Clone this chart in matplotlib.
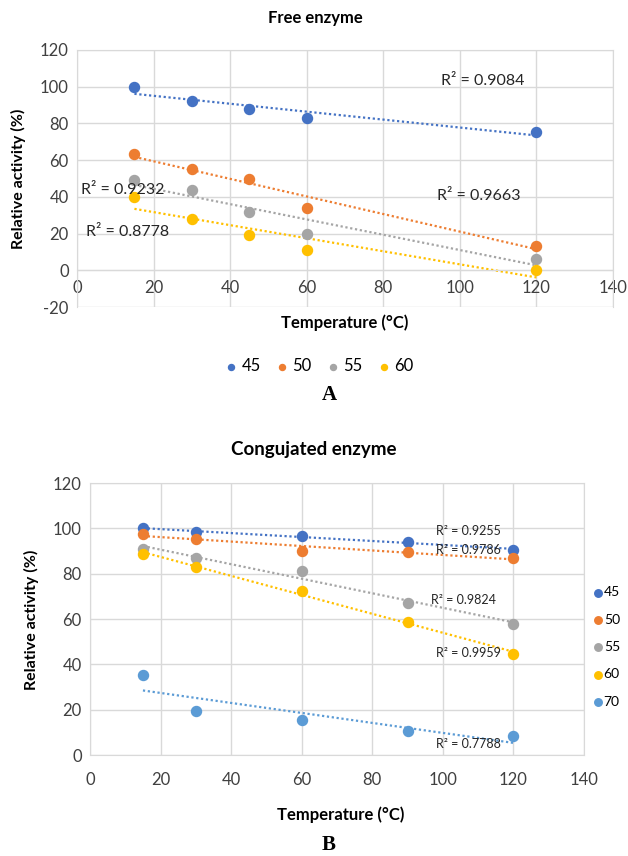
import matplotlib

matplotlib.use("Agg")
import matplotlib.pyplot as plt  # noqa: E402
import numpy as np  # noqa: E402

plt.rcParams["font.family"] = ["Lato", "DejaVu Sans"]
plt.rcParams["axes.unicode_minus"] = False

# --------------------------------------------------------------------------- #
# Data
# --------------------------------------------------------------------------- #
free_temp = [15, 30, 45, 60, 120]
free_45 = [100, 92, 88, 83, 75.5]
free_50 = [63.5, 55, 49.5, 34, 13.5]
free_55 = [49, 44, 32, 20, 6]
free_60 = [40, 28, 19, 11, 0]
free_r2 = ["0.9084", "0.9663", "0.9232", "0.8778"]

conj_temp = [15, 30, 60, 90, 120]
conj_45 = [100, 98.5, 96.5, 94, 90.5]
conj_50 = [97.5, 95.5, 90, 89.5, 87]
conj_55 = [91, 87, 81, 67, 58]
conj_60 = [88.5, 83, 72.5, 58.5, 44.5]
conj_70 = [35.5, 19.5, 15.5, 10.5, 8.5]
conj_r2 = ["0.9255", "0.9786", "0.9824", "0.9959", "0.7788"]

COLORS = {"45": "#4472C4", "50": "#ED7D31", "55": "#A5A5A5",
          "60": "#FFC000", "70": "#5B9BD5"}
GRID = "#D9D9D9"
TXT = "#262626"


def series_with_trend(ax, x, y, label):
    """Scatter points plus a dotted linear trendline (Excel style)."""
    c = COLORS[label]
    slope, icpt = np.polyfit(x, y, 1)
    xs = np.array([min(x), max(x)])
    ax.plot(xs, slope * xs + icpt, ls=(0, (1, 1.2)), lw=1.6, color=c,
            zorder=2)
    ax.scatter(x, y, s=52, color=c, zorder=3, label=label)


def style_axes(ax, ylim):
    ax.set_xlim(0, 140)
    ax.set_ylim(*ylim)
    ax.set_xticks(range(0, 141, 20))
    ax.set_yticks(range(ylim[0], ylim[1] + 1, 20))
    ax.grid(color=GRID, lw=1)
    ax.set_axisbelow(True)
    for sp in ax.spines.values():
        sp.set_color(GRID)
    ax.tick_params(length=0, labelsize=12, colors="#404040", pad=6)


W, H = 628, 856
fig = plt.figure(figsize=(W / 100, H / 100), dpi=100)

# --------------------------------------------------------------------------- #
# A - free enzyme
# --------------------------------------------------------------------------- #
axA = fig.add_axes([77 / W, 1 - 307 / H, 536 / W, 257 / H])
for lab, ys in zip(["45", "50", "55", "60"],
                   [free_45, free_50, free_55, free_60]):
    series_with_trend(axA, free_temp, ys, lab)
style_axes(axA, (-20, 120))
# horizontal axis crosses at 0, labels sit next to it
axA.spines["bottom"].set_position(("data", 0))
axA.tick_params(axis="x", pad=7)

r2_pos_A = [(95, 103), (94, 40.5), (1, 44), (2.3, 21)]
for (tx, ty), r in zip(r2_pos_A, free_r2):
    axA.text(tx, ty, f"R² = {r}", fontsize=11.5, color=TXT,
             va="center", ha="left")

fig.text(315 / W, 1 - 18 / H, "Free enzyme", ha="center", va="center",
         fontsize=12, fontweight="bold")
fig.text(18 / W, 1 - 179 / H, "Relative activity (%)", rotation=90,
         ha="center", va="center", fontsize=11.5, fontweight="bold")
fig.text(345 / W, 1 - 323 / H, "Temperature (°C)", ha="center",
         va="center", fontsize=12, fontweight="bold")
axA.legend(loc="center", bbox_to_anchor=(319 / W, 1 - 366 / H),
           bbox_transform=fig.transFigure, ncol=4, frameon=False,
           fontsize=12, handlelength=0.8, handletextpad=0.2,
           columnspacing=0.9, markerscale=0.6)
fig.text(329 / W, 1 - 395 / H, "A", ha="center", va="center",
         fontsize=15, fontweight="bold", family="Liberation Serif")

# --------------------------------------------------------------------------- #
# B - conjugated enzyme
# --------------------------------------------------------------------------- #
axB = fig.add_axes([90 / W, 1 - 755 / H, 494 / W, 272 / H])
for lab, ys in zip(["45", "50", "55", "60", "70"],
                   [conj_45, conj_50, conj_55, conj_60, conj_70]):
    series_with_trend(axB, conj_temp, ys, lab)
style_axes(axB, (0, 120))
axB.tick_params(axis="x", pad=12)

r2_pos_B = [(98, 99), (98, 90.5), (96.5, 68.5), (98, 45), (98, 5)]
for (tx, ty), r in zip(r2_pos_B, conj_r2):
    axB.text(tx, ty, f"R² = {r}", fontsize=9, color=TXT,
             va="center", ha="left")

fig.text(314 / W, 1 - 449 / H, "Congujated enzyme", ha="center",
         va="center", fontsize=13.5, fontweight="bold")
fig.text(31 / W, 1 - 620 / H, "Relative activity (%)", rotation=90,
         ha="center", va="center", fontsize=11.5, fontweight="bold")
fig.text(341 / W, 1 - 815 / H, "Temperature (°C)", ha="center",
         va="center", fontsize=12, fontweight="bold")
axB.legend(loc="center left", bbox_to_anchor=(594 / W, 1 - 647 / H),
           bbox_transform=fig.transFigure, frameon=False, fontsize=10,
           handlelength=0.6, handletextpad=0.1, labelspacing=1.1,
           markerscale=0.75, borderpad=0, borderaxespad=0)
fig.text(329 / W, 1 - 845 / H, "B", ha="center", va="center",
         fontsize=15, fontweight="bold", family="Liberation Serif")

fig.savefig("out.png", dpi=100)
